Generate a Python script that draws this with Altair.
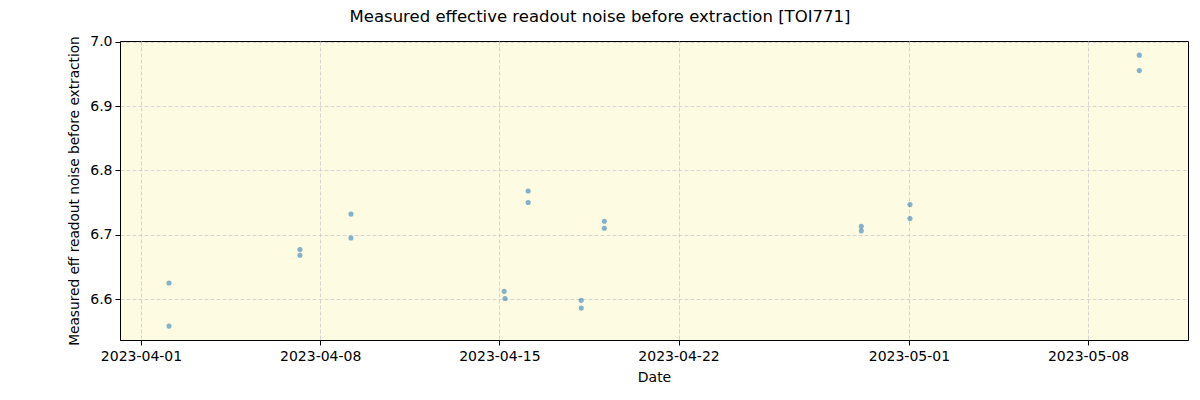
import altair as alt
import pandas as pd

dates = [
    "2023-04-02T02:15:00", "2023-04-02T02:15:00",
    "2023-04-07T05:00:00", "2023-04-07T05:00:00",
    "2023-04-09T04:50:00", "2023-04-09T04:50:00",
    "2023-04-15T04:30:00", "2023-04-15T05:20:00",
    "2023-04-16T03:00:00", "2023-04-16T03:00:00",
    "2023-04-18T04:45:00", "2023-04-18T04:45:00",
    "2023-04-19T02:25:00", "2023-04-19T02:25:00",
    "2023-04-29T03:20:00", "2023-04-29T03:20:00",
    "2023-05-01T01:00:00", "2023-05-01T01:00:00",
    "2023-05-10T00:00:00", "2023-05-10T00:00:00",
]
noise = [
    6.625, 6.558,
    6.677, 6.668,
    6.732, 6.695,
    6.612, 6.601,
    6.768, 6.750,
    6.598, 6.586,
    6.721, 6.710,
    6.713, 6.706,
    6.747, 6.725,
    6.979, 6.955,
]

df = pd.DataFrame({"date": dates, "noise": noise})

tick_dates = [
    alt.DateTime(year=2023, month=4, date=1),
    alt.DateTime(year=2023, month=4, date=8),
    alt.DateTime(year=2023, month=4, date=15),
    alt.DateTime(year=2023, month=4, date=22),
    alt.DateTime(year=2023, month=5, date=1),
    alt.DateTime(year=2023, month=5, date=8),
]

font = "DejaVu Sans"

chart = alt.Chart(df).mark_circle(size=26, color="#1f77b4", opacity=0.55).encode(
    x=alt.X(
        "date:T",
        title="Date",
        scale=alt.Scale(
            domain=[
                alt.DateTime(year=2023, month=3, date=31, hours=4, minutes=18),
                alt.DateTime(year=2023, month=5, date=11, hours=21, minutes=40),
            ]
        ),
        axis=alt.Axis(
            values=tick_dates,
            format="%Y-%m-%d",
            labelFont=font, labelFontSize=14, labelColor="black",
            titleFont=font, titleFontSize=14, titleColor="black", titleFontWeight="normal",
            tickColor="black", tickSize=5, domainColor="black",
            gridColor="#cccccc", gridDash=[4, 2], gridWidth=0.8,
            labelPadding=4, titlePadding=7, labelFlush=False,
        ),
    ),
    y=alt.Y(
        "noise:Q",
        title="Measured eff readout noise before extraction",
        scale=alt.Scale(domain=[6.5364, 7.001], nice=False, zero=False),
        axis=alt.Axis(
            values=[6.6, 6.7, 6.8, 6.9, 7.0],
            format=".1f",
            labelFont=font, labelFontSize=14, labelColor="black",
            titleFont=font, titleFontSize=13.7, titleColor="black", titleFontWeight="normal",
            tickColor="black", tickSize=5, domainColor="black",
            gridColor="#cccccc", gridDash=[4, 2], gridWidth=0.8,
            labelPadding=3, titlePadding=8,
        ),
    ),
).properties(
    width=1068,
    height=299,
    autosize=alt.AutoSizeParams(type="none"),
    padding={"left": 120, "top": 41, "right": 12, "bottom": 60},
    title=alt.TitleParams(
        "Measured effective readout noise before extraction [TOI771]",
        font=font, fontSize=16.5, fontWeight="normal", color="black",
        anchor="middle", dx=-54, dy=2, offset=11,
    ),
).configure_view(
    fill="#FDFBE2", stroke="black", strokeWidth=1
)

chart.save("out.html", embed_options={"renderer": "svg", "actions": False})
